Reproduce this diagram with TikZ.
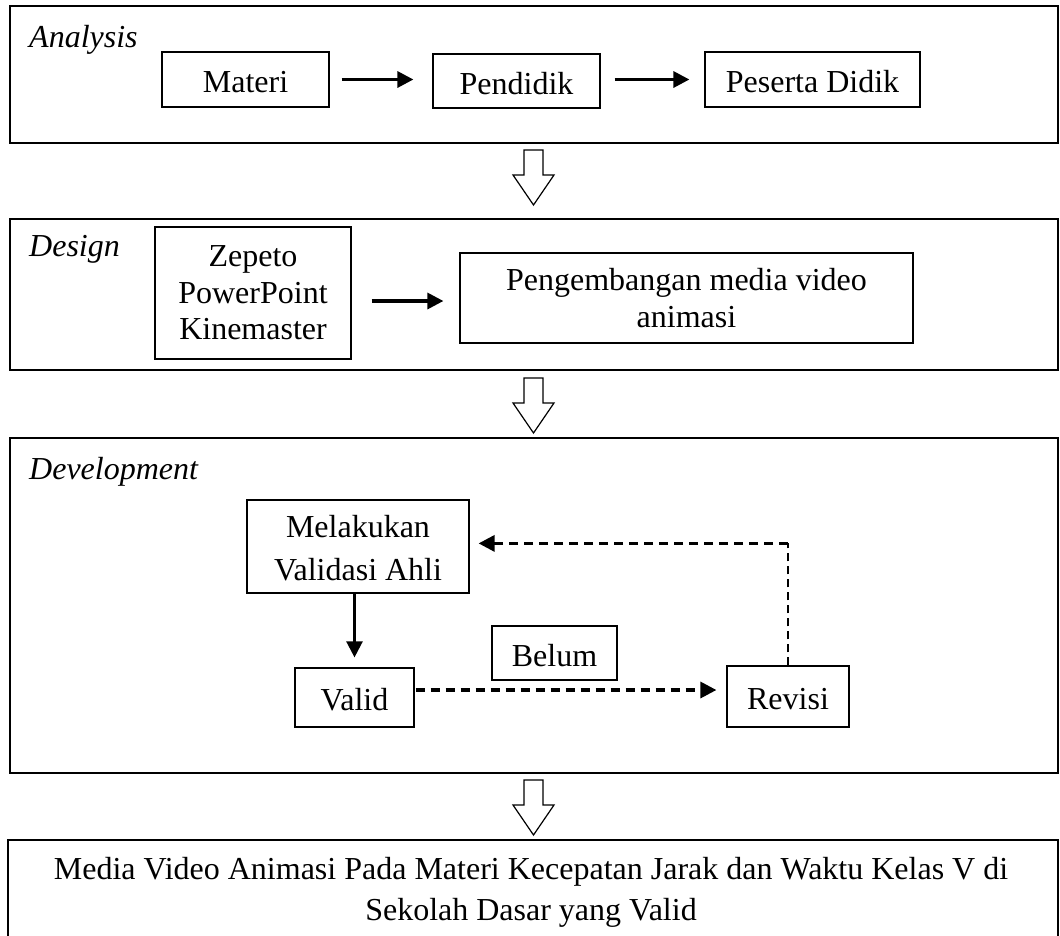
\documentclass[tikz,border=0pt]{standalone}
\usepackage{fontspec}
\setmainfont{Liberation Serif}
\usetikzlibrary{arrows.meta,calc}
\begin{document}
\begin{tikzpicture}[x=1pt,y=-1pt,
  frame/.style={draw, line width=1.4pt, inner sep=0pt},
  box/.style={draw, line width=1.2pt, inner sep=0pt, align=center},
  one/.style={font=\fontsize{32}{37}\selectfont, text height=26pt, text depth=0pt},
  multi/.style={font=\fontsize{32}{#1}\selectfont},
  lbl/.style={font=\fontsize{32}{37}\selectfont\itshape, anchor=base west, inner sep=0pt},
  solidarr/.style={line width=3.2pt, -{Triangle[length=16pt,width=16pt]}},
  thinarr/.style={line width=2.4pt, -{Triangle[length=16pt,width=16pt]}},
  dasharr/.style={line width=3.2pt, dash pattern=on 9pt off 6pt, -{Triangle[length=16pt,width=16pt]}},
  dashthin/.style={line width=2pt, dash pattern=on 8pt off 5pt},
  hollowarrow/.pic={\draw[line width=1.2pt, fill=white] (-9.5,0) -- (9.5,0) -- (9.5,25) -- (20.5,25) -- (0,55) -- (-20.5,25) -- (-9.5,25) -- cycle;}
]
\useasboundingbox (0,0) rectangle (1060,935);
\clip (0,0) rectangle (1060,935);

% frames
\node[frame, minimum width=1048pt, minimum height=137pt] (fa) at (534,74.5) {};
\node[frame, minimum width=1048pt, minimum height=151pt] (fd) at (534,294.5) {};
\node[frame, minimum width=1048pt, minimum height=335pt] (fdev) at (534,605.5) {};
\node[frame, minimum width=1050pt, minimum height=140pt] (ff) at (533,910) {};

% labels
\node[lbl] (la) at (29,47) {Analysis};
\node[lbl] (ld) at (29,256) {Design};
\node[lbl] (ldev) at (29,479) {Development};

% Analysis
\node[box, one, minimum width=167pt, minimum height=55pt] (materi) at (245.5,79.5) {Materi};
\node[box, one, minimum width=167pt, minimum height=54pt] (pend) at (516.5,81) {Pendidik};
\node[box, one, minimum width=215pt, minimum height=55pt] (peserta) at (812.5,79.5) {Peserta Didik};
\draw[solidarr, shorten <=12pt, shorten >=19pt] (materi.east) -- (materi.east -| pend.west);
\draw[solidarr, shorten <=14pt, shorten >=15pt] ([yshift=1.5pt]pend.east) -- ([yshift=1.5pt]pend.east -| peserta.west);

% Design
\node[box, multi=36.5pt, minimum width=196pt, minimum height=132pt] (zep) at (253,293) {Zepeto\\PowerPoint\\Kinemaster};
\node[box, multi=37pt, minimum width=453pt, minimum height=90pt] (peng) at (686.5,298) {Pengembangan media video\\animasi};
\draw[solidarr, shorten <=20pt, shorten >=16pt] ([yshift=-8pt]zep.east) -- ([yshift=-3pt]peng.west);

% Development
\node[box, multi=43pt, minimum width=222pt, minimum height=93pt] (mel) at (358,546.5) {\rule{0pt}{26pt}Melakukan\\Validasi Ahli};
\node[box, one, minimum width=119pt, minimum height=59pt] (valid) at (354.5,697.5) {Valid};
\node[box, one, minimum width=125pt, minimum height=54pt] (belum) at (554.5,653) {Belum};
\node[box, one, minimum width=122pt, minimum height=61pt] (revisi) at (788,696.5) {Revisi};
\draw[thinarr, shorten >=10pt] (mel.south -| valid.north) -- (valid.north);
\draw[dasharr, shorten <=1pt, shorten >=10pt] ([yshift=7.5pt]valid.east) -- ([yshift=7.5pt]valid.east -| revisi.west);
\coordinate (corner) at ($(revisi.north)+(0,-122)$);
\draw[dashthin] (revisi.north) -- (corner);
\draw[dasharr, shorten >=9pt] (corner) -- (corner -| mel.east);

% Result
\node[font=\fontsize{32}{41}\selectfont, align=center, inner sep=0pt] (res) at (531,892) {Media Video Animasi Pada Materi Kecepatan Jarak dan Waktu Kelas V di\\Sekolah Dasar yang Valid};

% hollow arrows between stages
\pic at (533.5,150) {hollowarrow};
\pic at (533.5,378) {hollowarrow};
\pic at (533.5,780) {hollowarrow};
\end{tikzpicture}
\end{document}
